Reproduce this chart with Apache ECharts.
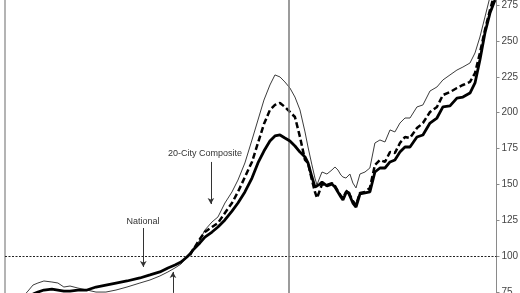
<!DOCTYPE html>
<html>
<head>
<meta charset="utf-8">
<script src="https://cdn.jsdelivr.net/npm/echarts@6/dist/echarts.min.js"></script>
<style>html,body{margin:0;padding:0;background:#fff}#c{width:520px;height:293px}</style>
</head>
<body>
<div id="c"></div>
<script>
const years = [1987.53,1988.12,1988.49,1988.85,1989.29,1989.88,1990.32,1990.76,1991.21,1991.79,
1992.46,1993.12,1993.85,1994.59,1995.40,1996.35,1997.09,1997.82,1998.41,1998.93,
1999.37,1999.81,2000.03,2000.25,2000.76,2001.13,2001.65,2002.09,2002.60,2003.12,
2003.56,2004.07,2004.59,2005.03,2005.47,2005.91,2006.28,2006.65,2007.01,2007.38,
2007.75,2008.12,2008.49,2008.71,2009.00,2009.22,2009.37,2009.59,2009.74,2010.10,
2010.47,2010.69,2010.91,2011.13,2011.28,2011.50,2011.65,2011.79,2012.01,2012.24,
2012.53,2012.90,2013.26,2013.63,2014.00,2014.37,2014.74,2015.10,2015.47,2015.84,
2016.21,2016.72,2017.16,2017.68,2018.19,2018.63,2019.15,2019.66,2020.10,2020.62,
2020.99,2021.35,2021.72,2022.09,2022.46];

const tenCity = [69.6,75.8,80.0,81.4,82.8,82.1,81.4,78.6,79.3,77.9,
76.5,75.1,75.1,76.5,78.6,81.4,83.5,86.3,89.1,91.9,
94.6,99.5,101.6,104.4,111.4,118.3,123.9,127.4,137.1,144.8,
153.1,165.0,181.0,194.9,208.8,219.3,226.3,224.9,221.4,217.2,
210.9,201.9,186.6,176.1,163.6,154.5,149.7,155.2,158.7,157.3,
160.1,162.2,160.1,156.6,155.2,154.5,155.9,157.3,151.0,147.6,
157.3,158.7,161.5,178.9,181.0,179.6,188.0,186.6,192.8,196.3,
196.3,204.0,205.4,215.1,217.9,222.8,226.3,229.7,231.8,234.6,
241.6,252.7,266.6,280.6,292.4];

const twentyCity = [null,null,null,null,null,null,null,null,null,null,
null,null,null,null,null,null,null,null,null,null,
null,null,100.9,104.4,112.0,116.9,120.4,123.2,130.2,137.1,
144.8,155.2,165.7,178.9,192.1,201.9,205.4,206.8,204.0,200.5,
197.0,183.1,167.1,165.0,153.1,144.8,140.6,146.2,150.3,149.7,
151.0,149.0,145.5,142.0,140.6,144.8,146.2,142.7,138.5,135.7,
144.1,144.8,147.6,163.6,167.1,165.7,172.6,171.9,178.9,183.1,
182.4,189.3,192.8,200.5,204.0,212.3,214.4,217.2,219.3,221.4,
227.6,241.6,257.6,271.5,284.1];

const national = [66.1,72.4,73.7,75.1,76.5,77.2,76.5,75.8,75.8,76.5,
76.5,78.6,80.0,81.4,82.8,84.9,87.0,89.1,91.9,93.9,
96.0,99.5,101.6,104.4,109.3,113.4,116.9,120.4,125.3,131.5,
137.1,144.8,154.5,165.0,173.3,180.3,183.8,184.5,182.4,180.3,
176.8,172.6,169.2,165.0,155.2,148.3,149.0,150.3,151.7,149.0,
150.3,148.3,144.8,141.3,139.2,144.1,144.8,142.0,137.1,134.3,
143.4,144.1,144.8,158.7,161.5,161.5,165.7,167.1,172.6,176.1,
176.1,183.1,184.5,192.8,196.3,204.0,204.7,210.2,210.9,213.7,
220.7,236.7,255.5,269.4,278.5];

const yTicks = [75,100,125,150,175,200,225,250,275];
const baseLine = 100;
const markerYear = 2007.26;

// annotations: [label, year, value]
const labels = [["20-City Composite", 2001.13, 171.9], ["National", 1996.57, 123.9]];
// arrows: [year, fromValue, toValue]
const arrows = [[2001.57, 165.7, 136.4], [1996.6, 119.7, 92.6], [1998.78, 74.5, 89.1]];

function pairs(arr){
  const out = [];
  arr.forEach((v,i)=>{ if (v !== null) out.push([years[i], v]); });
  return out;
}

const font = 'Arial, "Liberation Sans", sans-serif';
const chart = echarts.init(document.getElementById('c'), null, {renderer:'canvas'});
chart.setOption({
  animation: false,
  backgroundColor: '#fff',
  grid: {left: 5, right: 23.5, top: 0, bottom: 0, containLabel: false, outerBoundsMode: 'none'},
  xAxis: {type: 'value', min: 1986.43, max: 2022.57, show: false},
  yAxis: [
    {type: 'value', position: 'right', min: 74.44, max: 278.48,
     axisLine: {show: true, onZero: false, lineStyle: {color: '#8a8a8a', width: 1}},
     axisTick: {show: true, length: 3, customValues: yTicks, lineStyle: {color: '#8a8a8a'}},
     axisLabel: {show: true, customValues: yTicks, margin: 5, color: '#444', fontSize: 10, fontFamily: font,
       hideOverlap: false},
     splitLine: {show: false}},
    {type: 'value', position: 'left', min: 74.44, max: 278.48,
     axisLine: {show: true, onZero: false, lineStyle: {color: '#b4b4b4', width: 2}},
     axisTick: {show: false}, axisLabel: {show: false}, splitLine: {show: false}}
  ],
  series: [
    {type: 'line', name: 'helper', data: [], silent: true,
     markLine: {silent: true, symbol: ['none','none'], label: {show: false},
       data: [
         {yAxis: baseLine, lineStyle: {color: '#222', width: 1, type: [2,1.5]}},
         {xAxis: markerYear, lineStyle: {color: '#7a7a7a', width: 1.5, type: 'solid'}}
       ]}
    },
    {type: 'line', name: '10-City Composite', data: pairs(tenCity), showSymbol: false, symbol: 'none',
     lineStyle: {color: '#3c3c3c', width: 1}, z: 3},
    {type: 'line', name: '20-City Composite', data: pairs(twentyCity), showSymbol: false, symbol: 'none',
     lineStyle: {color: '#000', width: 2.5, type: [6,3]}, z: 4},
    {type: 'line', name: 'National', data: pairs(national), showSymbol: false, symbol: 'none',
     lineStyle: {color: '#000', width: 2.8}, z: 5},
    {type: 'line', name: 'annotations', data: [], silent: true, clip: false, z: 6,
     markLine: {silent: true, symbol: ['none','arrow'], symbolSize: [5,6], label: {show: false},
       lineStyle: {color: '#333', width: 1, type: 'solid'},
       data: arrows.map(a => [{coord: [a[0], a[1]]}, {coord: [a[0], a[2]]}])},
     markPoint: {silent: true, symbol: 'circle', symbolSize: 0,
       label: {show: true, position: 'inside', color: '#333', fontSize: 9, fontFamily: font,
         formatter: p => p.name},
       data: labels.map(l => ({name: l[0], coord: [l[1], l[2]]}))}
    }
  ]
});
</script>
</body>
</html>
